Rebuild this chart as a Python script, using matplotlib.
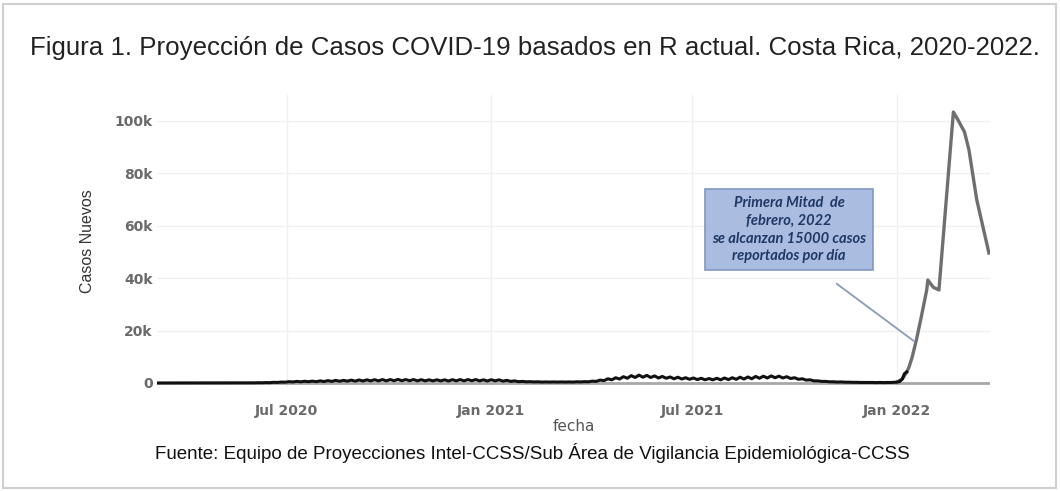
import numpy as np
import pandas as pd
import matplotlib
matplotlib.use("Agg")
import matplotlib.pyplot as plt
import matplotlib.dates as mdates
from matplotlib.ticker import FuncFormatter
from matplotlib.patches import Rectangle

# --- DATA ---
# observed daily cases (thousands), one value every 3.5 days from 2020-03-06
hist_start = "2020-03-06"
hist_k = [
    0.0, 0.01, 0.02, 0.03, 0.03, 0.02, 0.02, 0.02,   # Mar 2020
    0.02, 0.01, 0.01, 0.02, 0.01, 0.01, 0.01, 0.01,  # Apr
    0.01, 0.01, 0.02, 0.01, 0.02, 0.02, 0.03, 0.02,  # May
    0.05, 0.06, 0.1, 0.08, 0.15, 0.12, 0.25, 0.2,    # Jun
    0.35, 0.3, 0.5, 0.4, 0.6, 0.45, 0.65, 0.5,       # Jul
    0.7, 0.5, 0.8, 0.55, 0.9, 0.6, 1.0, 0.65,        # Aug
    1.0, 0.7, 1.1, 0.7, 1.15, 0.75, 1.2, 0.8,        # Sep
    1.25, 0.8, 1.3, 0.8, 1.3, 0.85, 1.35, 0.85,      # Oct
    1.3, 0.85, 1.3, 0.8, 1.25, 0.8, 1.2, 0.8,        # Nov
    1.2, 0.8, 1.2, 0.75, 1.25, 0.8, 1.3, 0.8,        # Dec
    1.3, 0.85, 1.3, 0.8, 1.2, 0.75, 1.25, 0.8,       # Jan 2021
    1.2, 0.7, 1.0, 0.6, 0.8, 0.5, 0.6, 0.45,         # Feb
    0.5, 0.4, 0.45, 0.35, 0.4, 0.35, 0.4, 0.35,      # Mar
    0.4, 0.35, 0.4, 0.35, 0.45, 0.4, 0.5, 0.45,      # Apr
    0.7, 0.6, 1.1, 0.9, 1.6, 1.2, 2.0, 1.5,          # Apr-May
    2.4, 1.8, 2.8, 2.1, 3.0, 2.2, 2.9, 2.1,          # May
    2.7, 1.9, 2.5, 1.8, 2.3, 1.6, 2.2, 1.5,          # Jun
    2.0, 1.4, 1.9, 1.3, 1.8, 1.2, 1.7, 1.2,          # Jul
    1.8, 1.2, 1.9, 1.3, 2.0, 1.4, 2.2, 1.5,          # Aug
    2.3, 1.6, 2.5, 1.8, 2.6, 1.9, 2.7, 2.0,          # Sep
    2.6, 1.9, 2.4, 1.7, 2.0, 1.4, 1.6, 1.1,          # Oct
    1.2, 0.8, 0.8, 0.6, 0.6, 0.45, 0.45, 0.35,       # Nov
    0.4, 0.3, 0.3, 0.25, 0.25, 0.2, 0.2, 0.2,        # Dec
    0.2, 0.15, 0.2, 0.15, 0.2, 0.2, 0.3, 0.5,        # Dec-Jan 2022
]
tail_dates = ["2022-01-06", "2022-01-08", "2022-01-10"]
tail_k = [1.5, 3.6, 4.2]

# projection (thousands)
proj_dates = ["2022-01-01", "2022-01-06", "2022-01-10", "2022-01-12", "2022-01-15",
              "2022-01-19", "2022-01-23", "2022-01-28", "2022-01-29", "2022-02-03",
              "2022-02-08", "2022-02-21", "2022-02-25", "2022-03-03", "2022-03-07",
              "2022-03-14", "2022-03-25"]
proj_k = [0.3, 1.5, 4.2, 6.0, 10.0, 17.0, 25.0, 35.5, 39.3, 36.5,
          35.5, 103.4, 100.5, 95.8, 89.0, 70.0, 49.6]

y_ticks = [0, 20000, 40000, 60000, 80000, 100000]
x_ticks = ["2020-07-01", "2021-01-01", "2021-07-01", "2022-01-01"]

title = "Figura 1. Proyección de Casos COVID-19 basados en R actual. Costa Rica, 2020-2022."
source = "Fuente: Equipo de Proyecciones Intel-CCSS/Sub Área de Vigilancia Epidemiológica-CCSS"
note = "Primera Mitad  de\nfebrero, 2022\nse alcanzan 15000 casos\nreportados por día"

hist_x = pd.date_range(hist_start, periods=len(hist_k), freq="84h")
hist_x = list(hist_x) + list(pd.to_datetime(tail_dates))
hist_y = np.array(hist_k + tail_k) * 1000
proj_x = pd.to_datetime(proj_dates)
proj_y = np.array(proj_k) * 1000

arial = ["Liberation Sans", "DejaVu Sans"]

fig = plt.figure(figsize=(10.6, 4.91), dpi=100)
fig.patches.append(Rectangle((0.003, 0.006), 0.993, 0.985, transform=fig.transFigure,
                             fill=False, edgecolor="#cfcfcf", lw=1.5))

ax = fig.add_axes([0.148, 0.212, 0.786, 0.595])
ax.axhline(0, color="#a8a8a8", lw=2, zorder=1)
ax.plot(proj_x, proj_y, color="#6f6f6f", lw=2.4, zorder=2)
ax.plot(hist_x, hist_y, color="#111111", lw=2.2, zorder=3)

ax.set_xlim(pd.Timestamp("2020-03-06"), pd.Timestamp("2022-03-26"))
ax.set_ylim(-1500, 110000)
ax.set_yticks(y_ticks)
ax.yaxis.set_major_formatter(FuncFormatter(lambda v, _: "0" if v == 0 else f"{int(v / 1000)}k"))
ax.set_xticks(pd.to_datetime(x_ticks))
ax.xaxis.set_major_formatter(mdates.DateFormatter("%b %Y"))
ax.grid(True, color="#f0f0f0", lw=1)
ax.set_axisbelow(True)
for s in ax.spines.values():
    s.set_visible(False)
ax.tick_params(length=0, colors="#6a6a6a", labelsize=10)
ax.tick_params(axis="x", pad=12)
ax.tick_params(axis="y", pad=3)
for lab in ax.get_xticklabels() + ax.get_yticklabels():
    lab.set_fontweight("bold")

ax.set_xlabel("fecha", fontsize=11, color="#555555", labelpad=1)
ax.set_ylabel("Casos Nuevos", fontsize=11.5, color="#333333", family=arial, labelpad=14)

ax.annotate("", xy=(pd.Timestamp("2022-01-18"), 15500),
            xytext=(pd.Timestamp("2021-11-06"), 38500),
            arrowprops=dict(arrowstyle="-", color="#8a9bb8", lw=1.3))
ax.text(pd.Timestamp("2021-09-26"), 58500, note, ha="center", va="center",
        fontsize=10.5, fontstyle="italic", fontweight="bold", color="#1f3864",
        family=["Lato", "DejaVu Sans"], linespacing=1.35,
        bbox=dict(boxstyle="square,pad=0.45", facecolor="#aabde0", edgecolor="#8197c2", lw=1.2))

fig.text(0.0283, 0.903, title, fontsize=18.6, color="#222222", family=arial, va="center")
fig.text(0.146, 0.078, source, fontsize=13.5, color="#111111", family=arial, va="center")

fig.savefig("out.png", dpi=100)
